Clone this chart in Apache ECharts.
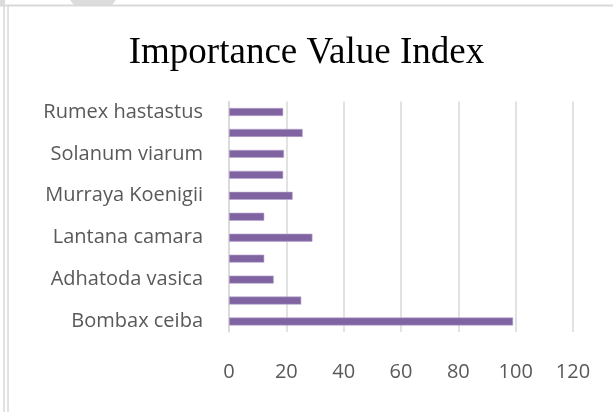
<!DOCTYPE html>
<html>
<head>
<meta charset="utf-8">
<script src="https://cdn.jsdelivr.net/npm/echarts@6/dist/echarts.min.js"></script>
<style>
  html, body { margin: 0; padding: 0; background: #fff; }
  #chart { width: 613px; height: 412px; }
</style>
</head>
<body>
<div id="chart"></div>
<script>
// categories bottom -> top; unlabelled rows are hidden by the label interval
var species = [
  "Bombax ceiba", "Species 2", "Adhatoda vasica", "Species 4",
  "Lantana camara", "Species 6", "Murraya Koenigii", "Species 8",
  "Solanum viarum", "Species 10", "Rumex hastastus"
];
var iviValues = [99.1, 25.2, 15.6, 12.3, 29.1, 12.3, 22.2, 18.9, 19.2, 25.7, 18.9];
var xTicks = { min: 0, max: 120, interval: 20 };

var chart = echarts.init(document.getElementById("chart"));
chart.setOption({
  animation: false,
  backgroundColor: "#fff",
  title: {
    text: "Importance Value Index",
    left: "center",
    top: 30,
    textStyle: {
      fontFamily: "Liberation Serif",
      fontWeight: "normal",
      fontSize: 37,
      color: "#000"
    }
  },
  grid: {
    left: 229,
    right: 40,
    top: 101.5,
    bottom: 80,
    containLabel: false
  },
  xAxis: {
    type: "value",
    min: xTicks.min,
    max: xTicks.max,
    interval: xTicks.interval,
    axisLine: { show: false },
    axisTick: { show: false },
    splitLine: { lineStyle: { color: "#d9d9d9", width: 1.5 } },
    axisLabel: {
      margin: 30,
      fontFamily: "Open Sans",
      fontSize: 20,
      color: "#595959"
    }
  },
  yAxis: {
    type: "category",
    data: species,
    axisLine: { show: true, lineStyle: { color: "#d9d9d9", width: 1.5 } },
    axisTick: { show: false },
    axisLabel: {
      interval: 1,
      margin: 26,
      fontFamily: "Open Sans",
      fontSize: 20,
      color: "#595959"
    }
  },
  series: [
    {
      type: "bar",
      data: iviValues,
      barWidth: 8,
      itemStyle: {
        color: "#8064a2",
        borderColor: "#b9a6cf",
        borderWidth: 0.6
      }
    }
  ],
  graphic: [
    { type: "rect", shape: { x: 0, y: 0, width: 5, height: 5 }, style: { fill: "#dcdcdc" } },
    { type: "polygon", shape: { points: [[70, 0], [116, 0], [112, 5], [74, 5]] }, style: { fill: "#dcdcdc" } },
    { type: "line", shape: { x1: 0, y1: 5.5, x2: 613, y2: 5.5 }, style: { stroke: "#d9d9d9", lineWidth: 2 } },
    { type: "line", shape: { x1: 4, y1: 5, x2: 4, y2: 412 }, style: { stroke: "#d9d9d9", lineWidth: 1.5 } },
    { type: "line", shape: { x1: 8, y1: 5, x2: 8, y2: 412 }, style: { stroke: "#d9d9d9", lineWidth: 1.5 } }
  ]
});
</script>
</body>
</html>
